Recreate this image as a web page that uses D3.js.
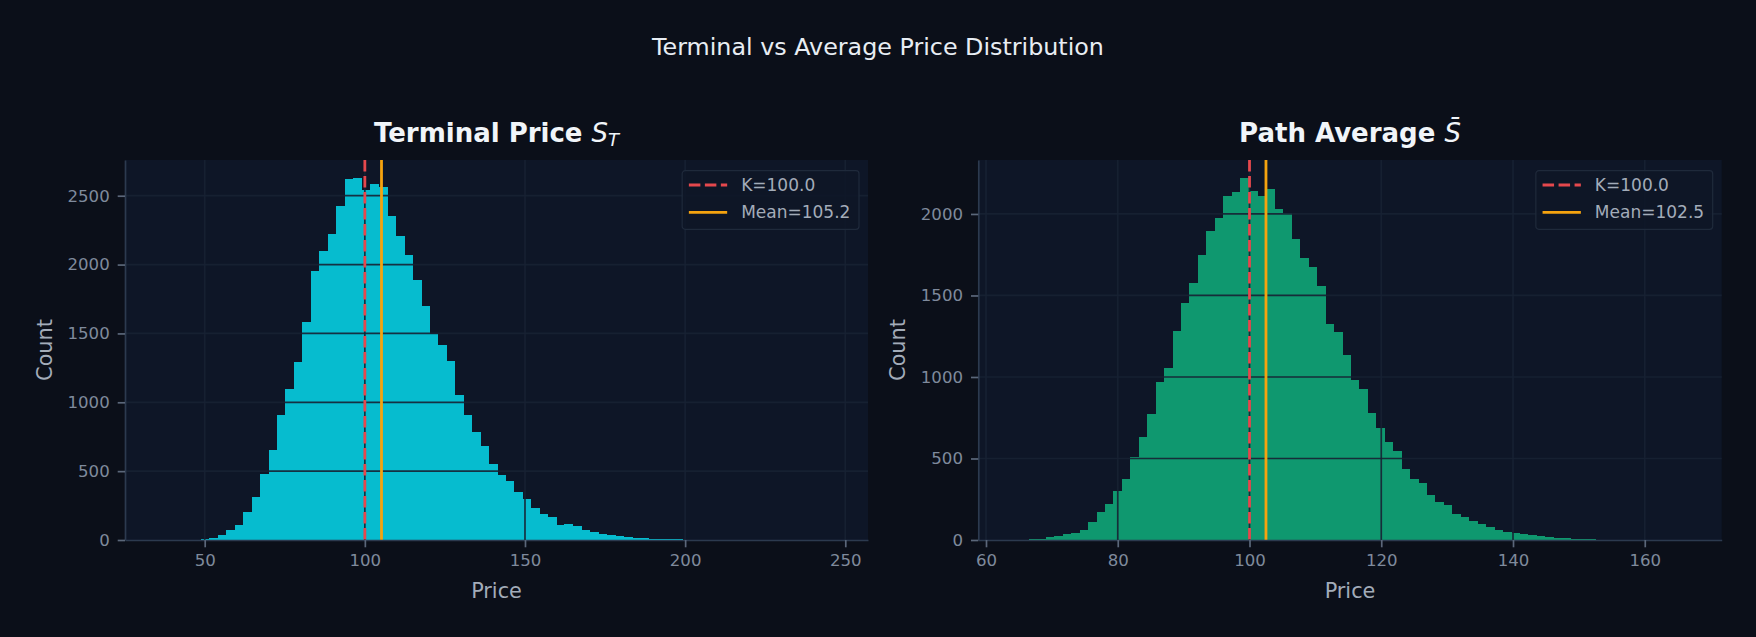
<!DOCTYPE html>
<html lang="en">
<head>
  <meta charset="UTF-8">
  <title>Terminal vs Average Price Distribution</title>
  <script src="https://cdn.jsdelivr.net/npm/d3@7"></script>
  <style>
    body { margin: 0; background: #0b0f19; }
    svg { display: block; font-family: "DejaVu Sans", sans-serif; }
  </style>
</head>
<body>
<svg id="chart" width="1756" height="637"></svg>
<script>
  // Histogram counts, 80 equal bins each
  const terminalCounts = [
    1, 0, 1, 2, 3, 8, 14, 35, 76, 112,
    206, 310, 482, 656, 905, 1100, 1290, 1581, 1956, 2100,
    2219, 2423, 2618, 2628, 2544, 2584, 2564, 2350, 2204, 2073,
    1888, 1701, 1498, 1416, 1299, 1053, 907, 781, 679, 552,
    470, 431, 350, 299, 229, 187, 170, 112, 117, 102,
    73, 58, 44, 36, 27, 22, 17, 15, 10, 7,
    6, 4, 3, 3, 2, 2, 1, 1, 1, 0,
    1, 0, 0, 1, 0, 0, 0, 0, 0, 1
  ];
  const averageCounts = [
    1, 2, 4, 8, 16, 25, 35, 41, 62, 113,
    169, 222, 303, 377, 508, 630, 774, 967, 1057, 1285,
    1456, 1579, 1747, 1895, 1975, 2110, 2135, 2220, 2142, 2111,
    2152, 2030, 2003, 1849, 1730, 1673, 1558, 1324, 1275, 1132,
    979, 925, 778, 689, 600, 543, 435, 377, 350, 278,
    233, 212, 160, 141, 117, 98, 79, 61, 50, 42,
    36, 30, 23, 18, 14, 10, 7, 5, 4, 3,
    2, 2, 1, 1, 1, 0, 0, 1, 0, 1
  ];
  const terminalRange = [35.66, 246.55];   // min / max of the samples
  const averageRange = [63.96, 166.55];
  const strike = 100.0;
  const terminalMean = 105.2;
  const averageMean = 102.5;

  const terminalXTicks = [50, 100, 150, 200, 250];
  const averageXTicks = [60, 80, 100, 120, 140, 160];
  const terminalYTicks = [0, 500, 1000, 1500, 2000, 2500];
  const averageYTicks = [0, 500, 1000, 1500, 2000];

  const svg = d3.select("#chart");
  svg.append("rect").attr("width", 1756).attr("height", 637).attr("fill", "#0b0f19");

  // Figure title
  svg.append("text")
    .attr("x", 878).attr("y", 55)
    .attr("text-anchor", "middle")
    .attr("font-size", 23.8)
    .attr("fill", "#e8edf3")
    .text("Terminal vs Average Price Distribution");

  const plotTop = 160, plotBottom = 540;

  function panel(opts) {
    const { x0, x1, counts, range, color, opacity, mean, xTicks, yTicks } = opts;
    const span = range[1] - range[0];
    const x = d3.scaleLinear()
      .domain([range[0] - 0.05 * span, range[1] + 0.05 * span])
      .range([x0, x1]);
    const y = d3.scaleLinear()
      .domain([0, d3.max(counts) * 1.05])
      .range([plotBottom, plotTop]);

    const g = svg.append("g");

    // axes background
    g.append("rect")
      .attr("x", x0).attr("y", plotTop)
      .attr("width", x1 - x0).attr("height", plotBottom - plotTop)
      .attr("fill", "#0e1627");

    // bars (snapped to pixels and overlapped a little so no seams show)
    const w = span / counts.length;
    g.append("g").attr("opacity", opacity)
      .attr("shape-rendering", "crispEdges")
      .selectAll("rect")
      .data(counts)
      .join("rect")
      .attr("x", (d, i) => x(range[0] + i * w))
      .attr("width", (d, i) => x(range[0] + (i + 1) * w) - x(range[0] + i * w) + 1)
      .attr("y", d => y(d))
      .attr("height", d => y(0) - y(d))
      .attr("fill", color);

    // grid, drawn above the bars
    const grid = g.append("g")
      .attr("stroke", "#172133")
      .attr("stroke-opacity", 0.9)
      .attr("stroke-width", 1.7);
    grid.selectAll(".gx").data(xTicks).join("line")
      .attr("x1", d => x(d)).attr("x2", d => x(d))
      .attr("y1", plotTop).attr("y2", plotBottom);
    grid.selectAll(".gy").data(yTicks.slice(1)).join("line")
      .attr("x1", x0).attr("x2", x1)
      .attr("y1", d => y(d)).attr("y2", d => y(d));

    // reference lines
    g.append("line")
      .attr("x1", x(strike)).attr("x2", x(strike))
      .attr("y1", plotTop).attr("y2", plotBottom)
      .attr("stroke", "#e5484d").attr("stroke-width", 2.8)
      .attr("stroke-dasharray", "11.5,4.5");
    g.append("line")
      .attr("x1", x(mean)).attr("x2", x(mean))
      .attr("y1", plotTop).attr("y2", plotBottom)
      .attr("stroke", "#f5a30f").attr("stroke-width", 2.8);

    // axes
    const xAxis = g.append("g")
      .attr("transform", `translate(0,${plotBottom})`)
      .call(d3.axisBottom(x).tickValues(xTicks).tickSize(7.3).tickSizeOuter(0).tickPadding(7));
    const yAxis = g.append("g")
      .attr("transform", `translate(${x0},0)`)
      .call(d3.axisLeft(y).tickValues(yTicks).tickSize(7.3).tickSizeOuter(0).tickPadding(8)
        .tickFormat(d3.format("d")));
    [xAxis, yAxis].forEach(a => {
      a.select(".domain").attr("stroke", "#2c3a4f").attr("stroke-width", 1.7);
      a.selectAll(".tick line").attr("stroke", "#5b677a").attr("stroke-width", 1.7);
      a.selectAll(".tick text")
        .attr("fill", "#7f8a9c")
        .attr("font-size", 16.6)
        .attr("font-family", "DejaVu Sans");
    });

    // axis labels
    g.append("text")
      .attr("x", (x0 + x1) / 2).attr("y", 598)
      .attr("text-anchor", "middle")
      .attr("font-size", 20.8).attr("fill", "#a3acb9")
      .text("Price");
    g.append("text")
      .attr("transform", `translate(${x0 - 80},${(plotTop + plotBottom) / 2}) rotate(-90)`)
      .attr("text-anchor", "middle").attr("dominant-baseline", "central")
      .attr("font-size", 20.8).attr("fill", "#a3acb9")
      .text("Count");

    // panel title
    const t = g.append("text")
      .attr("x", (x0 + x1) / 2).attr("y", 142)
      .attr("text-anchor", "middle")
      .attr("font-size", 26).attr("font-weight", "bold")
      .attr("fill", "#f1f5f9");
    t.append("tspan").text(opts.title + " ");
    t.append("tspan").attr("font-style", "italic").attr("font-weight", "normal").text(opts.symbol);
    if (opts.sub) {
      t.append("tspan").attr("font-style", "italic").attr("font-weight", "normal")
        .attr("font-size", 18).attr("dy", 4).text(opts.sub);
    }

    // legend
    const items = [
      { label: `K=${strike.toFixed(1)}`, color: "#e5484d", dash: "11.5,4.5" },
      { label: `Mean=${mean.toFixed(1)}`, color: "#f5a30f", dash: null }
    ];
    const lg = g.append("g");
    const box = lg.append("rect")
      .attr("fill", "#0e1627").attr("fill-opacity", 0.85)
      .attr("stroke", "#1f2a3b").attr("stroke-width", 1.2).attr("rx", 3);
    const texts = [];
    items.forEach((it, i) => {
      const row = lg.append("g").attr("transform", `translate(0,${14.3 + i * 27.3})`);
      row.append("line")
        .attr("x1", 6.7).attr("x2", 45).attr("y1", 0).attr("y2", 0)
        .attr("stroke", it.color).attr("stroke-width", 2.8)
        .attr("stroke-dasharray", it.dash);
      texts.push(row.append("text")
        .attr("x", 59).attr("y", 0).attr("dominant-baseline", "central")
        .attr("font-size", 17).attr("fill", "#a3acb9")
        .text(it.label));
    });
    const tw = d3.max(texts, s => s.node().getComputedTextLength());
    const bw = 59 + tw + 8.6, bh = 58.6;
    box.attr("width", bw).attr("height", bh);
    lg.attr("transform", `translate(${x1 - 9 - bw},${plotTop + 10.7})`);
  }

  panel({
    x0: 125, x1: 868, counts: terminalCounts, range: terminalRange,
    color: "#06bccf", opacity: 1, mean: terminalMean,
    xTicks: terminalXTicks, yTicks: terminalYTicks,
    title: "Terminal Price", symbol: "S", sub: "T"
  });
  panel({
    x0: 978.3, x1: 1721.7, counts: averageCounts, range: averageRange,
    color: "#10b981", opacity: 0.8, mean: averageMean,
    xTicks: averageXTicks, yTicks: averageYTicks,
    title: "Path Average", symbol: "S\u0304", sub: null
  });
</script>
</body>
</html>
